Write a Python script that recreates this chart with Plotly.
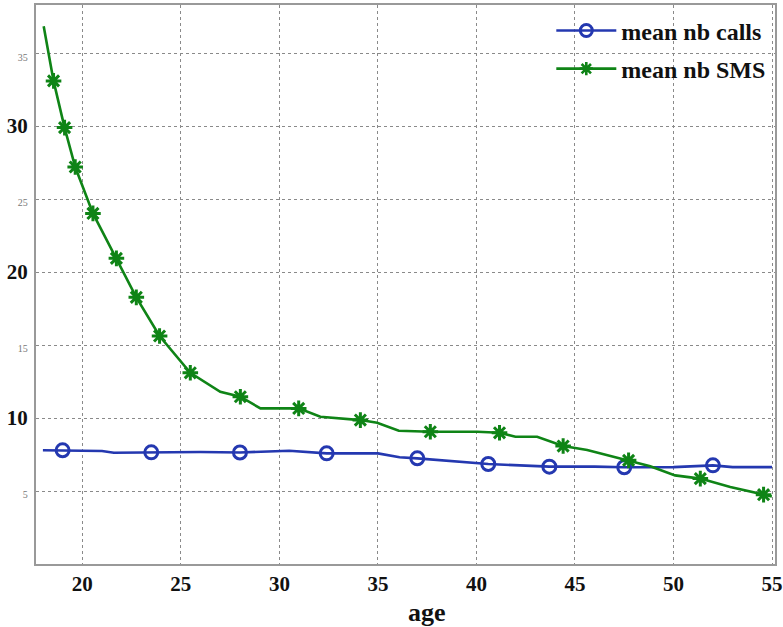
import plotly.graph_objects as go

# ---- data ----
calls_age = [18.0, 19.0, 21.0, 21.6, 23.5, 26.0, 28.0, 30.5, 32.4, 35.0, 36.1, 37.0,
             40.6, 43.7, 46.0, 47.5, 50.0, 52.0, 53.0, 55.0]
calls_mean = [7.79, 7.79, 7.74, 7.62, 7.65, 7.67, 7.64, 7.76, 7.58, 7.58, 7.31, 7.24,
              6.85, 6.67, 6.67, 6.63, 6.64, 6.76, 6.64, 6.64]
calls_marked = [1, 4, 6, 8, 11, 12, 13, 15, 17]

sms_age = [18.04, 18.54, 19.1, 19.64, 20.54, 21.73, 22.74, 23.92, 25.48, 27.0, 28.02,
           29.04, 30.98, 32.08, 34.11, 34.96, 36.06, 37.66, 40.04, 41.17, 41.98, 43.08,
           44.4, 45.62, 47.72, 48.82, 50.08, 51.36, 52.88, 54.57, 54.99]
sms_mean = [36.85, 33.1, 29.9, 27.2, 24.02, 20.94, 18.27, 15.62, 13.1, 11.8, 11.46,
            10.66, 10.66, 10.09, 9.86, 9.68, 9.13, 9.06, 9.06, 8.99, 8.72, 8.72,
            8.08, 7.81, 7.1, 6.69, 6.07, 5.85, 5.27, 4.75, 4.63]
sms_marked = [1, 2, 3, 4, 5, 6, 7, 8, 10, 12, 14, 17, 19, 22, 24, 27, 29]

series_names = ["mean nb calls", "mean nb SMS"]
x_ticks = [20, 25, 30, 35, 40, 45, 50, 55]
y_ticks = [5, 10, 15, 20, 25, 30, 35]
y_big = [10, 20, 30]

BLUE = "#2438b0"
GREEN = "#0f8416"
SERIF = "Liberation Serif, Times New Roman, serif"

calls_sizes = [13 if i in calls_marked else 0 for i in range(len(calls_age))]
sms_sizes = [13 if i in sms_marked else 0 for i in range(len(sms_age))]

fig = go.Figure()
fig.add_trace(go.Scatter(
    x=calls_age, y=calls_mean, mode="lines+markers", showlegend=False,
    line=dict(color=BLUE, width=2.6),
    marker=dict(symbol="circle-open", size=calls_sizes, color=BLUE, opacity=1,
                line=dict(color=BLUE, width=3)),
))
fig.add_trace(go.Scatter(
    x=sms_age, y=sms_mean, mode="lines+markers", showlegend=False,
    line=dict(color=GREEN, width=2.6),
    marker=dict(symbol="asterisk-open", size=sms_sizes, color=GREEN, opacity=1,
                line=dict(color=GREEN, width=3)),
))
# legend entries (no data drawn)
fig.add_trace(go.Scatter(
    x=[None], y=[None], mode="lines+markers", name="<b>%s</b>" % series_names[0],
    legendgroup="a", line=dict(color=BLUE, width=2.6),
    marker=dict(symbol="circle-open", size=12, color=BLUE, opacity=1,
                line=dict(color=BLUE, width=3)),
))
fig.add_trace(go.Scatter(
    x=[None], y=[None], mode="lines+markers", name="<b>%s</b>" % series_names[1],
    legendgroup="b", line=dict(color=GREEN, width=2.6),
    marker=dict(symbol="asterisk-open", size=11, color=GREEN, opacity=1,
                line=dict(color=GREEN, width=2.6)),
))

y_text = []
for v in y_ticks:
    if v in y_big:
        y_text.append("<b>%d</b>" % v)
    else:
        y_text.append("<span style='font-size:10px;color:#777777'>%d</span>" % v)

grid = dict(showgrid=True, gridcolor="#8a8a8a", gridwidth=1, griddash="dot",
            showline=True, linecolor="#999999", linewidth=2, mirror=True,
            zeroline=False, ticks="", automargin=False)

fig.update_layout(
    width=783, height=627,
    margin=dict(l=36, r=8, t=5, b=63),
    paper_bgcolor="white", plot_bgcolor="white",
    font=dict(family=SERIF, color="black"),
    xaxis=dict(range=[17.65, 55.15], tickvals=x_ticks,
               ticktext=["<b>%d</b>" % v for v in x_ticks],
               tickfont=dict(family=SERIF, size=21, color="#111111"), **grid),
    yaxis=dict(range=[0, 38.3], tickvals=y_ticks, ticktext=y_text,
               tickfont=dict(family=SERIF, size=21, color="#111111"),
               ticklabelstandoff=2, **grid),
    legend=dict(x=0.995, y=0.994, xanchor="right", yanchor="top",
                bgcolor="rgba(0,0,0,0)", borderwidth=0,
                font=dict(family=SERIF, size=24, color="#111111"),
                itemwidth=60, tracegroupgap=4),
    showlegend=True,
    annotations=[dict(text="<b>age</b>", xref="paper", yref="paper",
                      x=0.529, y=-0.086, xanchor="center", yanchor="middle",
                      showarrow=False,
                      font=dict(family=SERIF, size=26, color="#111111"))],
)

# remove the browser's default 8px page margin so the figure fills the window
fig.write_html("out.html", config={"displayModeBar": False},
               post_script="document.body.style.margin='0';")
